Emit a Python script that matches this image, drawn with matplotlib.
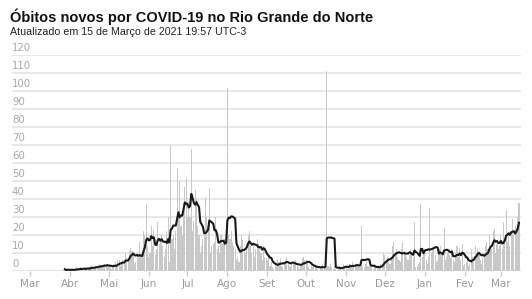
import matplotlib
matplotlib.use("Agg")
import matplotlib.pyplot as plt
import numpy as np
import pandas as pd
from datetime import datetime

# ---- data (daily new deaths) ----
start_date = "2020-03-28"
mar_2020 = [1, 0, 1, 1]
apr_2020 = [0, 1, 1, 0, 1, 2, 1, 1, 2, 1, 0, 2, 1, 2, 2, 1, 3, 2, 1, 2,
            3, 3, 2, 4, 3, 2, 3, 4, 3, 4]
may_2020 = [2, 3, 1, 2, 4, 5, 3, 6, 6, 3, 4, 6, 5, 10, 7, 6, 11, 13, 11, 10,
            4, 5, 9, 7, 16, 8, 10, 22, 20, 37, 14]
jun_2020 = [8, 10, 25, 14, 23, 9, 12, 27, 15, 18, 20, 14, 8, 12, 22, 30, 5, 70,
            18, 20, 12, 22, 57, 30, 50, 25, 20, 38, 47, 52]
jul_2020 = [30, 35, 30, 68, 22, 28, 45, 40, 25, 20, 10, 14, 18, 20, 41, 30, 28,
            46, 10, 14, 15, 16, 30, 12, 14, 10, 20, 15, 17, 18, 16]
aug_2020 = [102, 20, 18, 22, 16, 14, 12, 6, 8, 5, 14, 20, 17, 12, 10, 14, 20,
            22, 14, 10, 16, 8, 12, 18, 15, 14, 10, 6, 14, 8, 7]
sep_2020 = [6, 8, 3, 5, 2, 1, 4, 3, 6, 5, 7, 3, 2, 4, 6, 8, 5, 3, 2, 4,
            5, 4, 6, 3, 2, 1, 3, 7, 8, 6]
oct_2020 = [6, 4, 2, 1, 3, 2, 4, 3, 2, 1, 0, 2, 3, 4, 2, 5, 111, 3, 2, 4,
            2, 1, 3, 1, 0, 2, 3, 1, 2, 4, 3]
nov_2020 = [2, 1, 3, 4, 2, 5, 3, 2, 4, 3, 2, 4, 25, 3, 2, 4, 5, 3, 2, 3,
            2, 1, 4, 2, 1, 3, 2, 4, 3, 10]
dec_2020 = [9, 5, 8, 6, 4, 7, 14, 16, 10, 12, 8, 6, 5, 12, 16, 11, 10, 8, 6, 9,
            12, 10, 8, 27, 2, 3, 4, 5, 37, 8, 10]
jan_2021 = [12, 6, 4, 8, 35, 10, 12, 14, 9, 5, 6, 12, 14, 10, 9, 24, 6, 8, 10, 9,
            7, 12, 6, 5, 10, 14, 8, 13, 6, 15, 3]
feb_2021 = [4, 5, 6, 3, 4, 12, 8, 6, 14, 10, 12, 9, 6, 4, 8, 10, 14, 16, 12, 20,
            14, 12, 22, 24, 10, 15, 12, 14]
mar_2021 = [20, 12, 27, 18, 34, 16, 20, 14, 22, 29, 20, 25, 24, 30, 38]

month_labels = ["Mar", "Abr", "Mai", "Jun", "Jul", "Ago", "Set", "Out",
                "Nov", "Dez", "Jan", "Fev", "Mar"]
y_ticks = [0, 10, 20, 30, 40, 50, 60, 70, 80, 90, 100, 110, 120]

title = "Óbitos novos por COVID-19 no Rio Grande do Norte"
subtitle = "Atualizado em 15 de Março de 2021 19:57 UTC-3"

# ---- build series ----
values = (mar_2020 + apr_2020 + may_2020 + jun_2020 + jul_2020 + aug_2020 +
          sep_2020 + oct_2020 + nov_2020 + dec_2020 + jan_2021 + feb_2021 + mar_2021)
dates = pd.date_range(start_date, periods=len(values), freq="D")
s = pd.Series(values, index=dates, dtype=float)
avg = s.rolling(7, min_periods=1).mean()

# ---- figure ----
W, H = 532, 299
fig = plt.figure(figsize=(W / 100, H / 100), dpi=100)
ax = fig.add_axes([12 / W, 1 - 271 / H, (521 - 12) / W, (271 - 55.3) / H])

ax.bar(s.index, s.values, width=0.85, color="#c8c8c8", linewidth=0, zorder=2)
ax.plot(avg.index, avg.values, color="#1a1a1a", lw=1.5, zorder=3,
        solid_joinstyle="round")

ax.set_ylim(0, 120)
ax.set_xlim(datetime(2020, 2, 16), datetime(2021, 3, 16, 14))

# grid lines
for v in y_ticks:
    ax.axhline(v, color="#e4e4e4" if v else "#dddddd", lw=1.2, zorder=1)
ax.set_yticks([])
trans = matplotlib.transforms.blended_transform_factory(ax.transAxes, ax.transData)
for v in y_ticks:
    ax.annotate(str(v), xy=(0, v), xycoords=trans, xytext=(0, 1.5),
                textcoords="offset points", ha="left", va="bottom",
                fontsize=7.3, color="#a8a8a8", family="DejaVu Sans")

month_starts = pd.date_range("2020-03-01", periods=len(month_labels), freq="MS")
ax.set_xticks(month_starts)
ax.set_xticklabels(month_labels)
ax.tick_params(axis="x", length=3.5, width=1, color="#cccccc", pad=2,
               labelsize=7.5, labelcolor="#999999")
for sp in ax.spines.values():
    sp.set_visible(False)

fig.text(10 / W, 1 - 22 / H, title, fontsize=10.5, fontweight="bold",
         family="Liberation Sans", color="#111111", va="baseline")
fig.text(10 / W, 1 - 35 / H, subtitle, fontsize=7.7,
         family="Liberation Sans", color="#222222", va="baseline")

fig.savefig("out.png", dpi=100)
